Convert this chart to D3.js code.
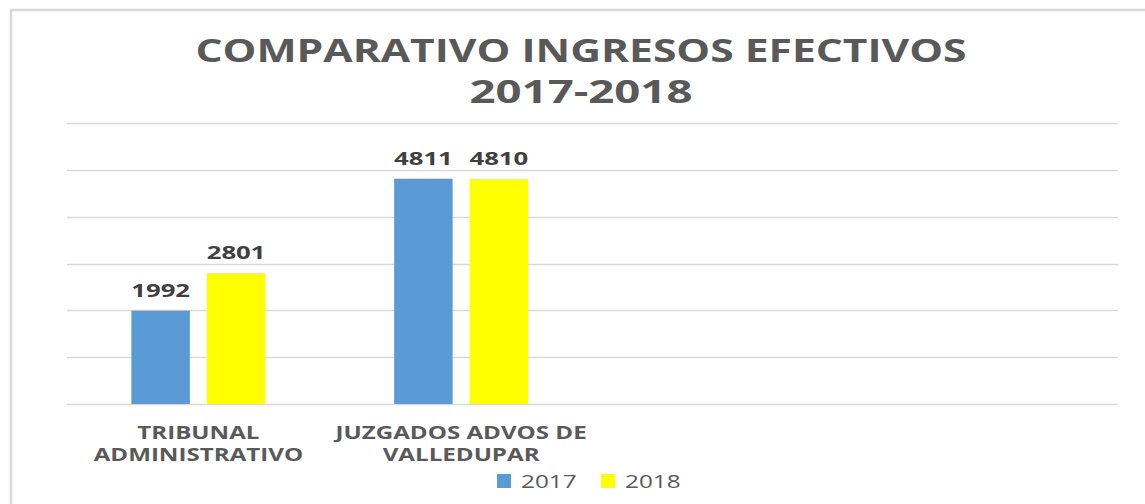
<!DOCTYPE html>
<html>
<head>
<meta charset="utf-8">
<script src="https://cdn.jsdelivr.net/npm/d3@7"></script>
<style>
  body { margin: 0; background: #fff; }
  text { font-family: "Open Sans", sans-serif; }
</style>
</head>
<body>
<script>
'use strict';
let categories = [["TRIBUNAL", "ADMINISTRATIVO"], ["JUZGADOS ADVOS DE", "VALLEDUPAR"], ["", ""], ["", ""]];
let catKeys = ["c1", "c2", "c3", "c4"];
let series = ["2017", "2018"];
let values2017 = [1992, 4811, null, null];
let values2018 = [2801, 4810, null, null];
let colors = ["#5B9BD5", "#FFFF00"];
let yTicks = [0, 1000, 2000, 3000, 4000, 5000, 6000];
let titleLines = ["COMPARATIVO INGRESOS EFECTIVOS", "2017-2018"];

let W = 1145, H = 504;
let svg = d3.select("body").append("svg")
	.attr("width", W)
	.attr("height", H);

// chart frame
svg.append("rect")
	.attr("x", 11).attr("y", 10)
	.attr("width", W + 10).attr("height", H + 10)
	.attr("fill", "#fff")
	.attr("stroke", "#d9d9d9")
	.attr("stroke-width", 2.5);

let x = d3.scaleBand().domain(catKeys).range([67, 1118]);
let x1 = d3.scaleBand().domain(series).range([0, x.bandwidth()]).paddingInner(0.225).paddingOuter(0.853);
let y = d3.scaleLinear().domain([0, 6000]).range([404, 123]);

// gridlines
svg.selectAll("line.grid")
	.data(yTicks)
	.enter().append("line")
		.attr("class", "grid")
		.attr("x1", 67).attr("x2", 1118)
		.attr("y1", function(d){return Math.round(y(d)) + 0.5;})
		.attr("y2", function(d){return Math.round(y(d)) + 0.5;})
		.attr("stroke", "#d9d9d9")
		.attr("stroke-width", 1.3);

let rows = [];
catKeys.forEach(function(k, i){
	if (values2017[i] != null) rows.push({cat: k, s: "2017", v: values2017[i], c: colors[0]});
	if (values2018[i] != null) rows.push({cat: k, s: "2018", v: values2018[i], c: colors[1]});
});

svg.selectAll("rect.bar")
	.data(rows)
	.enter().append("rect")
		.attr("class", "bar")
		.attr("x", function(d){return x(d.cat) + x1(d.s);})
		.attr("width", x1.bandwidth())
		.attr("y", function(d){return y(d.v);})
		.attr("height", function(d){return y(0) - y(d.v);})
		.attr("fill", function(d){return d.c;});

// text here looks horizontally stretched, so scale it in x only
function stretched(sel, sx) {
	sel.attr("transform", function(){
		let t = d3.select(this);
		return "translate(" + t.attr("data-x") + "," + t.attr("data-y") + ") scale(" + sx + ",1)";
	});
}

// data labels
svg.selectAll("text.lbl")
	.data(rows)
	.enter().append("text")
		.attr("class", "lbl")
		.attr("data-x", function(d){return x(d.cat) + x1(d.s) + x1.bandwidth() / 2;})
		.attr("data-y", function(d){return y(d.v) - 14;})
		.attr("text-anchor", "middle")
		.attr("font-size", 18)
		.attr("font-weight", "bold")
		.attr("fill", "#404040")
		.text(function(d){return d.v;})
		.call(stretched, 1.43);

// category labels
catKeys.forEach(function(k, i){
	categories[i].forEach(function(line, j){
		if (!line) return;
		svg.append("text")
			.attr("data-x", x(k) + x.bandwidth() / 2)
			.attr("data-y", 439 + j * 22)
			.attr("text-anchor", "middle")
			.attr("font-size", 17)
			.attr("font-weight", "bold")
			.attr("fill", "#595959")
			.text(line)
			.call(stretched, 1.42);
	});
});

// title
titleLines.forEach(function(t, i){
	svg.append("text")
		.attr("data-x", 581)
		.attr("data-y", 62 + i * 41)
		.attr("text-anchor", "middle")
		.attr("font-size", 33)
		.attr("font-weight", "bold")
		.attr("fill", "#595959")
		.text(t)
		.call(stretched, i === 0 ? 1.29 : 1.38);
});

// legend
let legend = svg.selectAll("g.legend")
	.data(series)
	.enter().append("g")
		.attr("class", "legend")
		.attr("transform", function(d, i){return "translate(" + (497 + i * 104) + ",474)";});
legend.append("rect")
	.attr("width", 14).attr("height", 14)
	.attr("fill", function(d, i){return colors[i];});
legend.append("text")
	.attr("data-x", 24).attr("data-y", 14)
	.attr("font-size", 19)
	.attr("fill", "#595959")
	.text(function(d){return d;})
	.call(stretched, 1.28);
</script>
</body>
</html>
